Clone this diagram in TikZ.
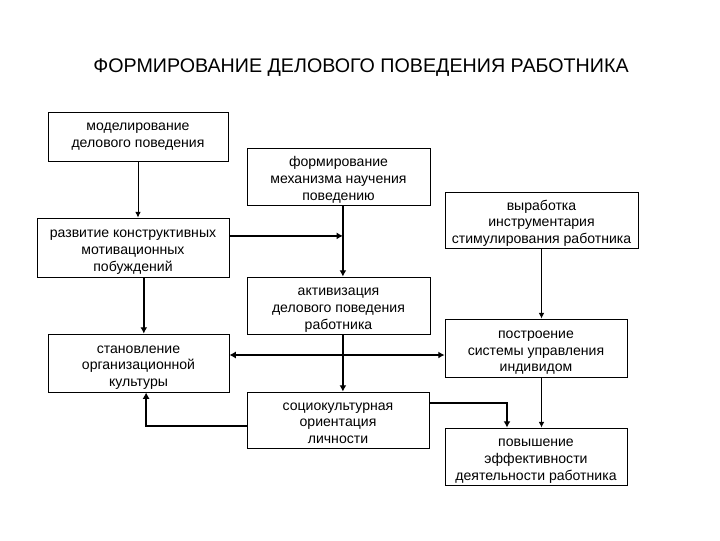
\documentclass[tikz,border=0pt]{standalone}
\usepackage{fontspec}
\setmainfont{Liberation Sans}
\usetikzlibrary{calc, arrows.meta}

\begin{document}
\begin{tikzpicture}[x = 0.025cm, y = -0.025cm,
    bloc/.style = {draw, line width = 0.6pt, align = center, inner sep = 0pt,
        font = \fontsize{10}{11.8}\selectfont},
    fin/.style = {->, >={Latex[length = 4pt, width = 4pt]}, line width = 0.7pt},
    gras/.style = {->, >={Latex[length = 4.5pt, width = 5pt]}, line width = 1.4pt}]
\useasboundingbox (0, 0) rectangle (720, 540);

% Titre
\node (titre) at (361, 68) {\fontsize{14}{16}\selectfont ФОРМИРОВАНИЕ ДЕЛОВОГО ПОВЕДЕНИЯ РАБОТНИКА};

% Les blocs : nom / centre x / centre y / largeur / hauteur / hauteur de la 1re ligne / texte
\foreach \nom/\x/\y/\l/\h/\haut/\texte in {
    m1/138/136.5/180/49/0pt/{моделирование\\делового поведения},
    m2/338.5/176.5/183/57/12pt/{формирование\\механизма научения\\поведению},
    m3/541.5/220/193/56/12pt/{выработка\\инструментария\\стимулирования работника},
    m4/133/247.5/192/59/12pt/{развитие конструктивных\\мотивационных\\побуждений},
    m5/338.5/305.5/183/57/12pt/{активизация\\делового поведения\\работника},
    m6/536/348/182/58/12pt/{построение\\системы управления\\индивидом},
    m7/138.5/363/181/58/12pt/{становление\\организационной\\культуры},
    m8/338/420/182/56/10pt/{социокультурная\\ориентация\\личности},
    m9/536/456.5/182/57/12pt/{повышение\\эффективности\\деятельности работника}}{
    \node[bloc, minimum width = \l*0.025cm, minimum height = \h*0.025cm] (\nom) at (\x, \y) {\rule{0pt}{\haut}\texte};
}

% Axe central
\coordinate (axe) at ([xshift = 0.11cm]m2.south);
\draw[gras] (axe) -- (axe |- m5.north);
\draw[gras] (axe |- m5.south) -- (axe |- m8.north);

% Colonne de gauche
\draw[fin] (m1.south) -- (m1.south |- m4.north);
\draw[gras] ([xshift = 0.27cm]m4.south) -- ([xshift = 0.27cm]m4.south |- m7.north);
\draw[gras] ([yshift = 0.29cm]m4.east) -- ([yshift = 0.29cm]m4.east -| axe);
\draw[gras] ([yshift = -0.15cm]m8.west) -| ([xshift = 0.19cm]m7.south);
\draw[gras, <->] ([yshift = 0.2cm]m7.east) -- ([yshift = 0.2cm]m7.east -| m6.west);

% Colonne de droite
\foreach \source/\dest in {m3/m6, m6/m9}{
    \draw[fin] (m3.south |- \source.south) -- (m3.south |- \dest.north);
}
\draw[gras] ([yshift = 0.425cm]m8.east) -| ([xshift = -0.725cm]m9.north);
\end{tikzpicture}
\end{document}
